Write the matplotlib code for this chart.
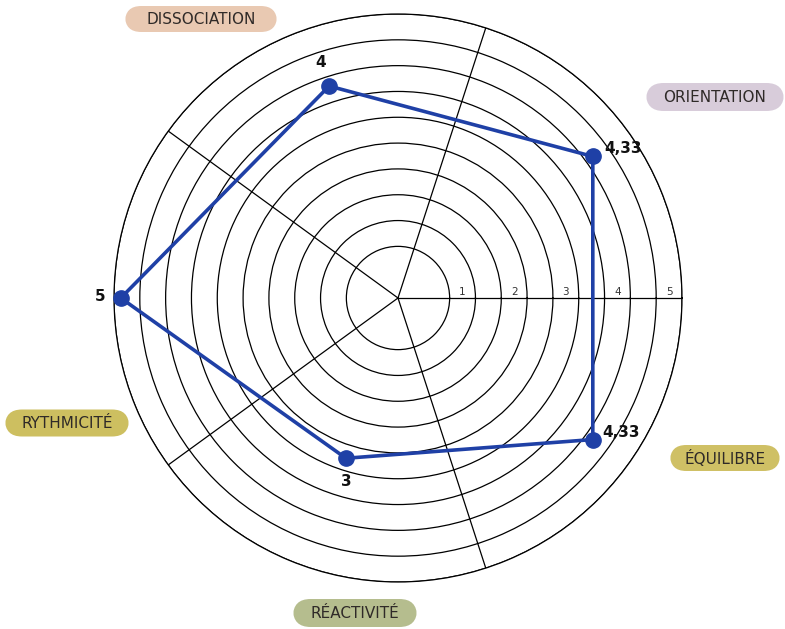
import numpy as np
import matplotlib.pyplot as plt
from matplotlib.patches import FancyBboxPatch

# Données
categories = ["ORIENTATION", "DISSOCIATION", "RYTHMICITÉ", "RÉACTIVITÉ", "ÉQUILIBRE"]
values = [4.33, 4, 5, 3, 4.33]
value_labels = ["4,33", "4", "5", "3", "4,33"]
scale_labels = ["1", "2", "3", "4", "5"]
pill_colors = ["#D8CCDA", "#E9C9B2", "#CDBF60", "#B5BD8E", "#CFC065"]

# Mise en page
W, H = 785, 629
cx, cy, R = 398, 298, 284
fig = plt.figure(figsize=(W / 100, H / 100), dpi=100)
ax = fig.add_axes([(cx - R) / W, (H - cy - R) / H, 2 * R / W, 2 * R / H], polar=True)

rmin, rmax = -0.1, 5.125
ax.set_ylim(rmin, rmax)

# Grille : 10 cercles, 5 rayons décalés de 36° par rapport aux axes
circles = np.linspace(0.85, rmax, 10)
ax.set_yticks(circles)
ax.set_yticklabels([])
ax.set_xticks(np.deg2rad([0, 72, 144, 216, 288]))
ax.set_xticklabels([])
ax.grid(True, color="black", linewidth=0.9)
ax.spines["polar"].set_color("black")
ax.spines["polar"].set_linewidth(0.9)

# Graduations 1..5 au milieu d'une bande sur deux
step = circles[1] - circles[0]
for k, lab in enumerate(scale_labels):
    r = circles[2 * k] + step / 2
    ax.annotate(lab, (0, r), xytext=(0, 1), textcoords="offset points",
                ha="center", va="bottom", fontsize=7.5, color="#333333")

# Série
theta = np.deg2rad(36 + 72 * np.arange(len(values)))
t = np.append(theta, theta[0])
v = np.append(values, values[0])
ax.plot(t, v, color="#1F40A6", linewidth=2.6, zorder=5, clip_on=False)
ax.plot(theta, values, "o", color="#1F40A6", markersize=11, zorder=6, clip_on=False)

# Étiquettes de valeur
offsets = [(8, 6), (-6, 17), (-15, 1), (0, -17), (7, 5)]
aligns = ["left", "center", "center", "center", "left"]
for th, val, lab, off, ha in zip(theta, values, value_labels, offsets, aligns):
    ax.annotate(lab, (th, val), xytext=off, textcoords="offset points",
                ha=ha, va="center", fontsize=11, fontweight="bold", color="#111111")

# Étiquettes des catégories (pastilles)
pill_pos = [(715, 97), (201, 19), (67, 423), (355, 613), (725, 458)]
pill_size = [(138, 28), (152, 26), (124, 27), (124, 28), (110, 26)]
for name, col, (px, py), (pw, ph) in zip(categories, pill_colors, pill_pos, pill_size):
    x0 = (px - pw / 2) / W
    y0 = 1 - (py + ph / 2) / H
    fig.patches.append(FancyBboxPatch(
        (x0, y0), pw / W, ph / H, transform=fig.transFigure,
        boxstyle=f"round,pad=0,rounding_size={ph / 2 / H:.4f}",
        mutation_aspect=W / H, fc=col, ec="none"))
    fig.text(px / W, 1 - py / H, name, ha="center", va="center", fontsize=11,
             color="#2F2A28", fontweight="medium")

fig.savefig("out.png", dpi=100)
